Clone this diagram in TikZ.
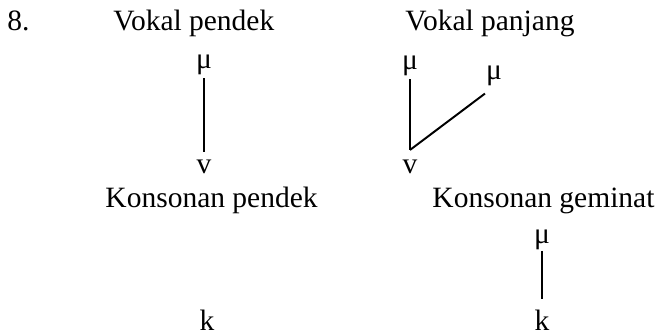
\documentclass[tikz,border=0pt]{standalone}
\usepackage{fontspec}
\setmainfont{Liberation Serif}
\usetikzlibrary{calc}

\begin{document}
\begin{tikzpicture}[x=0.4068pt, y=-0.4068pt, every node/.style={inner sep=0pt}, font=\fontsize{12}{14}\selectfont, mora/.style={font=\fontsize{12}{14}\selectfont, anchor=base}, seg/.style={anchor=base}, link/.style={line width=0.8pt}]
    \useasboundingbox(0,0)rectangle(662,336);
    % number
    \node[anchor=base west](N)at(7,31){8.};
    % titles
    \node[anchor=base west](VS)at(113,31){Vokal pendek};
    \node[anchor=base west](VL)at(405,31){Vokal panjang};
    \node[anchor=base west](KS)at(105,208){Konsonan pendek};
    \node[anchor=base west](KL)at(432,208){Konsonan geminat};
    % short vowel
    \node[mora](M1)at(204,69){μ};
    \node[seg](V1)at(204,174){v};
    \path[draw, link, shorten <=1.1pt, shorten >=3.4pt](M1)to(V1);
    % long vowel
    \node[mora](M2)at(410,70){μ};
    \node[mora](M3)at(494,80){μ};
    \node[seg](V2)at(410,174){v};
    \coordinate(J)at($(V2.north)+(0,-10)$);
    \path[draw, link, shorten <=1.1pt](M2)to(J);
    \path[draw, link, shorten <=4.6pt](M3.south)to(J);
    % short consonant
    \node[seg](K1)at(207,331){k};
    % geminate
    \node[mora](M4)at(542,244){μ};
    \node[seg](K2)at(542,331){k};
    \path[draw, link, shorten >=4.5pt](M4)to(K2);
\end{tikzpicture}
\end{document}
